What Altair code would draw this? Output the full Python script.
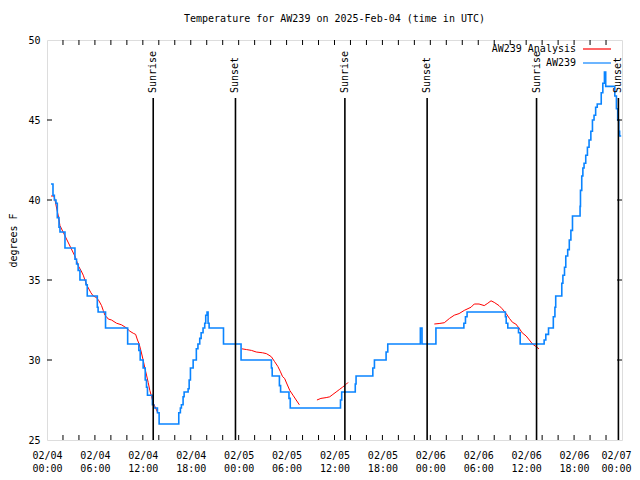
import altair as alt
import pandas as pd

# ---- data ----
blue_hours = [0.5, 0.75, 0.92, 1.125, 1.29, 1.5, 1.625, 2.25, 3.5, 3.7, 3.9, 4.125, 4.875, 5.04,
              6.3, 6.4, 7.33, 10.1, 11.5, 11.67, 12.04, 12.3, 12.46, 12.58, 13.2, 13.375, 13.83,
              14.04, 16.5, 16.7, 16.83, 17.04, 17.17, 17.67, 17.8, 17.96, 18.3, 18.7, 18.9, 19.125,
              19.3, 19.54, 19.75, 19.875, 20.04, 20.17, 20.3, 22.1, 24.3, 28.1, 28.2, 29.1, 29.25,
              30.3, 30.46, 36.75, 36.9, 38.6, 38.7, 40.8, 41.0, 42.46, 42.67, 46.75, 46.96, 48.7,
              52.2, 52.4, 52.6, 57.4, 57.5, 57.7, 59.04, 59.25, 62.25, 62.46, 62.8, 63.4, 63.6,
              63.7, 64.46, 64.6, 64.8, 64.96, 65.2, 65.4, 65.6, 65.8, 66.75, 66.8, 66.96, 67.1,
              67.25, 67.46, 67.67, 67.875, 68.1, 68.3, 68.5, 68.7, 68.9, 69.4, 69.6, 69.8, 69.96,
              71.1, 71.3, 71.46, 71.6, 71.7, 71.9]
blue_temps = [41.0, 40.3, 40.0, 39.8, 38.9, 38.3, 38.0, 37.0, 36.3, 36.0, 35.6, 35.0, 34.7, 34.0,
              33.3, 33.0, 32.0, 31.0, 30.6, 30.0, 29.5, 28.75, 28.3, 27.8, 27.2, 27.0, 26.7,
              26.0, 26.7, 27.0, 27.2, 27.7, 28.0, 28.2, 28.75, 29.5, 30.0, 30.7, 31.0, 31.35,
              31.7, 32.0, 32.3, 32.8, 33.0, 32.3, 32.0, 31.0, 30.0, 29.5, 29.0, 28.4, 28.0,
              27.6, 27.0, 27.5, 28.0, 28.5, 29.0, 29.5, 30.0, 30.5, 31.0, 32.0, 31.0, 32.0,
              32.3, 32.7, 33.0, 32.7, 32.3, 32.0, 31.7, 31.0, 31.25, 31.6, 32.0, 32.7, 33.3,
              34.0, 34.8, 35.3, 35.8, 36.5, 36.9, 37.5, 38.1, 39.0, 39.6, 40.6, 41.5, 42.0,
              42.3, 42.8, 43.3, 43.75, 44.3, 45.0, 45.3, 45.8, 46.0, 46.7, 47.3, 48.0, 47.1,
              46.5, 45.7, 45.0, 44.3, 44.0, 44.0]

red_a_hours = [0.5, 0.875, 1.0, 1.2, 1.42, 1.625, 3.58, 3.9, 4.25, 4.54, 4.75, 4.96, 5.5, 5.8, 6.2,
               6.5, 6.83, 7.04, 7.25, 7.46, 7.67, 8.08, 8.7, 9.33, 9.96, 10.375, 10.8, 11.1, 11.33,
               11.54, 11.8, 12.04, 12.25, 12.46, 12.67, 12.875, 13.1, 13.3, 13.6, 13.9]
red_a_temps = [40.25, 40.25, 40.0, 39.5, 39.0, 38.4, 36.4, 35.9, 35.6, 35.3, 35.0, 34.7, 34.2, 34.0,
               33.9, 33.7, 33.4, 33.1, 32.8, 32.7, 32.56, 32.5, 32.3, 32.2, 32.0, 31.8, 31.67, 31.6,
               31.25, 31.0, 30.5, 30.0, 29.5, 29.06, 28.6, 28.1, 27.7, 27.3, 27.0, 26.67]
red_b_hours = [24.4, 25.0, 25.6, 26.2, 27.0, 27.46, 27.8, 28.1, 28.5, 28.9, 29.2, 29.5, 29.75, 30.05,
               30.4, 30.8, 31.2, 31.6]
red_b_temps = [30.7, 30.65, 30.6, 30.5, 30.45, 30.4, 30.3, 30.2, 29.9, 29.6, 29.3, 28.96, 28.85, 28.5,
               28.1, 27.8, 27.5, 27.2]
red_c_hours = [33.8, 34.3, 34.96, 35.4, 35.8, 36.2, 36.6, 37.0, 37.5, 37.7]
red_c_temps = [27.5, 27.6, 27.65, 27.7, 27.85, 28.0, 28.15, 28.3, 28.5, 28.6]
red_d_hours = [48.5, 49.1, 49.75, 50.4, 51.0, 51.6, 52.25, 53.1, 53.5, 54.1, 54.75, 55.2, 55.6, 56.0,
               56.6, 57.0, 57.5, 57.9, 58.3, 58.7, 59.1, 59.5, 60.0, 60.4, 60.8, 61.2, 61.6]
red_d_temps = [32.25, 32.28, 32.33, 32.6, 32.8, 32.9, 33.1, 33.3, 33.5, 33.5, 33.4, 33.55, 33.7, 33.6,
               33.4, 33.2, 32.9, 32.6, 32.35, 32.25, 32.0, 31.7, 31.5, 31.25, 31.0, 30.85, 30.7]

sun_hours = [13.3, 23.6, 37.3, 47.6, 61.3, 71.55]
sun_labels = ["Sunrise", "Sunset", "Sunrise", "Sunset", "Sunrise", "Sunset"]

x_label_values = list(range(0, 73, 6))
x_tick_values = list(range(2, 72, 2))
y_tick_values = [30, 35, 40, 45]

title_text = "Temperature for AW239 on 2025-Feb-04 (time in UTC)"
legend_labels = ["AW239 Analysis", "AW239"]
legend_colors = ["#ff0000", "#0a84ff"]

FONT = "DejaVu Sans Mono"
W, H = 575, 400

# ---- tables ----
blue_df = pd.DataFrame({"h": blue_hours, "t": blue_temps})
red_parts = []
for seg, (hh, tt) in enumerate([(red_a_hours, red_a_temps), (red_b_hours, red_b_temps),
                                 (red_c_hours, red_c_temps), (red_d_hours, red_d_temps)]):
    red_parts.append(pd.DataFrame({"h": hh, "t": tt, "seg": seg}))
red_df = pd.concat(red_parts, ignore_index=True)
sun_df = pd.DataFrame({"h": sun_hours, "label": sun_labels})
xt_df = pd.DataFrame({"h": x_tick_values})
yt_df = pd.DataFrame({"t": y_tick_values})

xscale = alt.Scale(domain=[0, 72], nice=False, zero=False)
yscale = alt.Scale(domain=[25, 50], nice=False, zero=False)

label_expr = ("['02/0' + toString(4 + floor(datum.value / 24)), "
              "(datum.value % 24 < 10 ? '0' : '') + toString(datum.value % 24) + ':00']")

X = alt.X("h:Q", scale=xscale, title=None,
          axis=alt.Axis(values=x_label_values, labelExpr=label_expr, ticks=False, domain=False,
                        grid=False, labelPadding=10, labelOverlap=False, labelBound=False,
                        labelFlush=False, labelFont=FONT, labelFontSize=10, labelColor="black",
                        labelLineHeight=13,
                        labelAlign=alt.condition("datum.value == 72", alt.value("right"),
                                                 alt.value("center")),
                        labelOffset=alt.condition("datum.value == 72", alt.value(9),
                                                  alt.value(0))))
Y = alt.Y("t:Q", scale=yscale, title="degrees F",
          axis=alt.Axis(values=[25, 30, 35, 40, 45, 50], ticks=False, domain=False, grid=False,
                        labelPadding=7, labelFont=FONT, labelFontSize=10, labelColor="black",
                        titleFont=FONT, titleFontSize=10, titleFontWeight="normal",
                        titleColor="black", titleX=-34, titleY=200, titleAngle=270,
                        titleAlign="center", titleBaseline="middle"))

red = alt.Chart(red_df).mark_line(color="#ff0000", strokeWidth=1).encode(x=X, y=Y, detail="seg:N")
blue = alt.Chart(blue_df).mark_line(color="#0a84ff", strokeWidth=1.6,
                                    interpolate="step-after").encode(x="h:Q", y="t:Q")

sun_rules = alt.Chart(sun_df).mark_rule(color="black", strokeWidth=1.6).encode(
    x="h:Q", y=alt.value(58), y2=alt.value(H))
sun_text = alt.Chart(sun_df).mark_text(angle=270, align="left", baseline="middle", font=FONT,
                                       fontSize=10, color="black").encode(
    x="h:Q", y=alt.value(53), text="label:N")

xt_bot = alt.Chart(xt_df).mark_rule(color="black").encode(
    x="h:Q", y=alt.value(H), y2=alt.value(H - 5))
xt_top = alt.Chart(xt_df).mark_rule(color="black").encode(
    x="h:Q", y=alt.value(0), y2=alt.value(5))
yt_left = alt.Chart(yt_df).mark_rule(color="black").encode(
    y="t:Q", x=alt.value(0), x2=alt.value(5))
yt_right = alt.Chart(yt_df).mark_rule(color="black").encode(
    y="t:Q", x=alt.value(W), x2=alt.value(W - 5))

legend_layers = []
for i, (lab, col) in enumerate(zip(legend_labels, legend_colors)):
    ldf = pd.DataFrame({"label": [lab]})
    yy = 9 + 14 * i
    legend_layers.append(alt.Chart(ldf).mark_text(align="right", baseline="middle", font=FONT,
                                                  fontSize=10, color="black").encode(
        x=alt.value(529), y=alt.value(yy), text="label:N"))
    legend_layers.append(alt.Chart(ldf).mark_rule(color=col, strokeWidth=1.2).encode(
        x=alt.value(536), x2=alt.value(564), y=alt.value(yy)))

chart = alt.layer(red, blue, sun_rules, sun_text, xt_bot, xt_top, yt_left, yt_right,
                  *legend_layers).properties(
    width=W, height=H,
    title=alt.TitleParams(title_text, font=FONT, fontSize=10, fontWeight="normal",
                          color="black", offset=11, anchor="middle"),
    autosize=alt.AutoSizeParams(type="none"),
    padding={"left": 39, "top": 32, "right": 10, "bottom": 36},
).configure_view(stroke="black", strokeWidth=1).configure(background="white")

chart.save("out.html", embed_options={"renderer": "svg", "actions": False})
